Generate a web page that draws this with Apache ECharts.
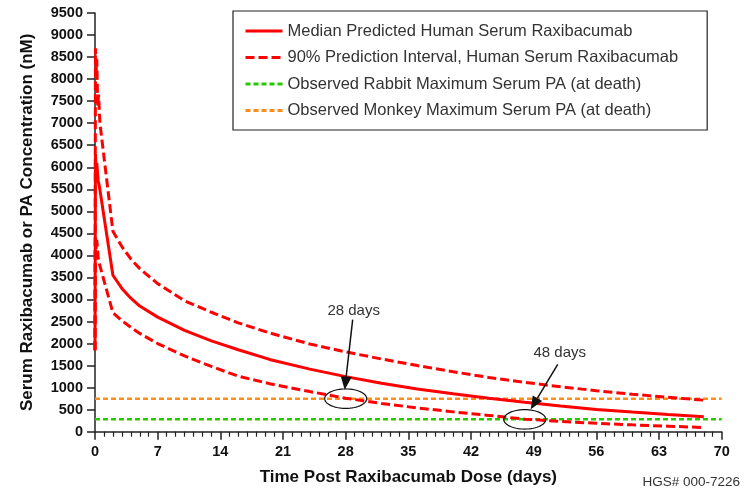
<!DOCTYPE html>
<html>
<head>
<meta charset="utf-8">
<script src="https://cdn.jsdelivr.net/npm/echarts@6/dist/echarts.min.js"></script>
<style>
html,body{margin:0;padding:0;background:#fff;}
#chart{width:747px;height:492px;}
</style>
</head>
<body>
<div id="chart"></div>
<script>
// ---- Data ----
var medianName = 'Median Predicted Human Serum Raxibacumab';
var intervalName = '90% Prediction Interval, Human Serum Raxibacumab';
var rabbitName = 'Observed Rabbit Maximum Serum PA (at death)';
var monkeyName = 'Observed Monkey Maximum Serum PA (at death)';

var medianDays   = [0, 0.05, 0.12, 0.2, 0.35, 0.5, 2, 3, 4, 5, 7, 10, 13, 16, 19.5, 24, 28, 32, 36, 40, 44, 48, 52, 56, 60, 64, 68];
var medianValues = [1850, 6300, 5900, 6100, 5700, 5550, 3550, 3250, 3030, 2850, 2600, 2300, 2060, 1860, 1640, 1420, 1250, 1100, 970, 860, 760, 670, 585, 505, 445, 390, 340];

var upperDays   = [0, 0.05, 0.12, 0.2, 0.3, 0.4, 0.55, 2, 3, 4, 5, 7, 10, 13, 16, 19.5, 24, 28, 32, 36, 40, 44, 48, 52, 56, 60, 64, 68];
var upperValues = [1850, 8700, 8150, 8450, 7400, 7650, 7000, 4550, 4200, 3920, 3700, 3360, 2970, 2710, 2470, 2240, 1990, 1810, 1650, 1500, 1360, 1230, 1120, 1020, 930, 850, 780, 715];

var lowerDays   = [0, 0.05, 0.12, 0.2, 0.35, 0.5, 2, 3, 4, 5, 7, 10, 13, 16, 19.5, 24, 28, 32, 36, 40, 44, 48, 52, 56, 60, 64, 68];
var lowerValues = [1850, 4400, 4150, 4350, 3950, 3800, 2700, 2520, 2370, 2230, 2000, 1720, 1480, 1260, 1090, 910, 760, 640, 540, 450, 370, 285, 235, 190, 155, 125, 95];

var rabbitLevel = 280;
var monkeyLevel = 750;
var levelDays = [0, 70];

var xTickInterval = 7;
var yTickInterval = 500;

var annotDays   = [28, 48];
var annotLevels = [750, 280];
var annotLabels = ['28 days', '48 days'];

var footnote = 'HGS# 000-7226';
var xTitle = 'Time Post Raxibacumab Dose (days)';
var yTitle = 'Serum Raxibacumab or PA Concentration (nM)';

// ---- Build ----
function pairs(xs, ys) { return xs.map(function (x, i) { return [x, ys[i]]; }); }

// pixel offsets (style) for annotation label / arrow / ellipse
var annotStyle = [
  { label: [8, -88], tail: [7, -79], tip: [-1, -9] },
  { label: [35, -67], tail: [33, -55], tip: [6, -10] }
];

function renderAnnot(params, api) {
  var i = api.value(2);
  var c = api.coord([api.value(0), api.value(1)]);
  var st = annotStyle[i];
  var rx = 21, ry = 9.7;
  var pts = [];
  for (var k = 0; k < 60; k++) {
    var a = k / 60 * Math.PI * 2;
    pts.push([c[0] + rx * Math.cos(a), c[1] + ry * Math.sin(a)]);
  }
  var tail = [c[0] + st.tail[0], c[1] + st.tail[1]];
  var tip = [c[0] + st.tip[0], c[1] + st.tip[1]];
  var dx = tip[0] - tail[0], dy = tip[1] - tail[1];
  var len = Math.sqrt(dx * dx + dy * dy);
  var ux = dx / len, uy = dy / len;
  var hl = 13, hw = 5.5;
  var base = [tip[0] - ux * hl, tip[1] - uy * hl];
  var head = [tip, [base[0] - uy * hw, base[1] + ux * hw], [base[0] + uy * hw, base[1] - ux * hw]];
  return {
    type: 'group',
    children: [
      { type: 'polygon', shape: { points: pts }, style: { fill: 'none', stroke: '#111', lineWidth: 1.2 } },
      { type: 'line', shape: { x1: tail[0], y1: tail[1], x2: base[0], y2: base[1] }, style: { stroke: '#111', lineWidth: 1.5 } },
      { type: 'polygon', shape: { points: head }, style: { fill: '#111' } },
      { type: 'text', x: c[0] + st.label[0], y: c[1] + st.label[1],
        style: { text: annotLabels[i], fill: '#333', font: '15px "Liberation Sans", Arial, sans-serif', align: 'center', verticalAlign: 'middle' } }
    ]
  };
}

var chart = echarts.init(document.getElementById('chart'), null, { renderer: 'canvas' });
var red = '#ff0000';
var option = {
  animation: false,
  backgroundColor: '#ffffff',
  textStyle: { fontFamily: '"Liberation Sans", Arial, sans-serif' },
  grid: { left: 95, right: 25.3, top: 13, bottom: 60.3, containLabel: false, outerBoundsMode: 'none' },
  legend: {
    data: [medianName, intervalName, rabbitName, monkeyName],
    orient: 'vertical',
    left: 233, top: 11,
    padding: [11.5, 29, 11, 11],
    itemWidth: 37, itemHeight: 14, itemGap: 9.5,
    icon: 'inherit',
    itemStyle: { opacity: 0 },
    lineStyle: { width: 3 },
    borderColor: '#222', borderWidth: 1.2, backgroundColor: '#fff',
    textStyle: { fontSize: 16.5, color: '#333', lineHeight: 16, fontFamily: '"Liberation Sans", Arial, sans-serif' },
    selectedMode: false
  },
  xAxis: {
    type: 'value', min: 0, max: 70, interval: xTickInterval,
    name: xTitle, nameLocation: 'middle', nameGap: 37,
    nameTextStyle: { fontSize: 17, fontWeight: 'bold', color: '#111' },
    axisLine: { lineStyle: { color: '#222', width: 1.5 } },
    axisTick: { show: true, length: 8, lineStyle: { color: '#222', width: 1.5 } },
    minorTick: { show: true, splitNumber: 7, length: 5, lineStyle: { color: '#222', width: 1.2 } },
    axisLabel: { fontSize: 14.5, fontWeight: 'bold', color: '#111', margin: 13 },
    splitLine: { show: false }
  },
  yAxis: {
    type: 'value', min: 0, max: 9500, interval: yTickInterval,
    name: yTitle, nameLocation: 'middle', nameGap: 59,
    nameTextStyle: { fontSize: 17, fontWeight: 'bold', color: '#111' },
    axisLine: { show: true, lineStyle: { color: '#222', width: 1.5 } },
    axisTick: { show: true, length: 8, lineStyle: { color: '#222', width: 1.5 } },
    axisLabel: { fontSize: 14.5, fontWeight: 'bold', color: '#111', margin: 12,
      formatter: function (v) { return String(v); } },
    splitLine: { show: false }
  },
  series: [
    { name: rabbitName, type: 'line', data: pairs(levelDays, [rabbitLevel, rabbitLevel]), symbol: 'none',
      lineStyle: { color: '#22cc00', width: 2.5, type: [5, 3] }, itemStyle: { color: '#22cc00' }, z: 2 },
    { name: monkeyName, type: 'line', data: pairs(levelDays, [monkeyLevel, monkeyLevel]), symbol: 'none',
      lineStyle: { color: '#ff8c1a', width: 2.5, type: [5, 3] }, itemStyle: { color: '#ff8c1a' }, z: 2 },
    { name: intervalName, type: 'line', data: pairs(upperDays, upperValues), symbol: 'none',
      lineStyle: { color: red, width: 3, type: [9, 4] }, itemStyle: { color: red }, z: 3 },
    { name: intervalName, type: 'line', data: pairs(lowerDays, lowerValues), symbol: 'none',
      lineStyle: { color: red, width: 3, type: [9, 4] }, itemStyle: { color: red }, z: 3 },
    { name: medianName, type: 'line', data: pairs(medianDays, medianValues), symbol: 'none',
      lineStyle: { color: red, width: 3 }, itemStyle: { color: red }, z: 3 },
    { name: 'annotations', type: 'custom', renderItem: renderAnnot,
      data: annotDays.map(function (d, i) { return [d, annotLevels[i], i]; }), z: 5, silent: true }
  ],
  graphic: [
    { type: 'text', right: 7, top: 475,
      style: { text: footnote, fill: '#333', font: '13.5px "Liberation Sans", Arial, sans-serif' } }
  ]
};
chart.setOption(option);
</script>
</body>
</html>
